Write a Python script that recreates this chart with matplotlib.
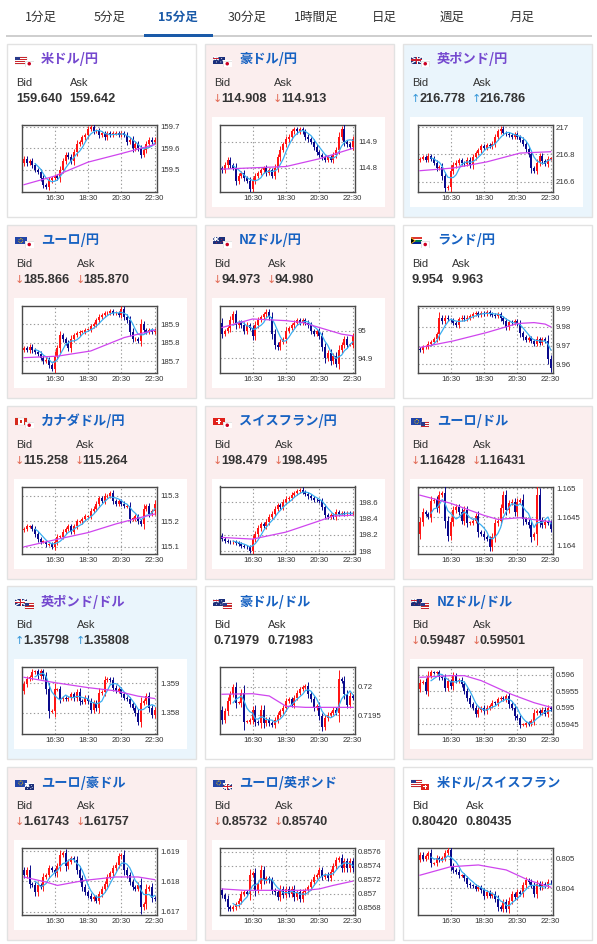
import numpy as np
import pandas as pd
import matplotlib
matplotlib.use("Agg")
import matplotlib.pyplot as plt
from matplotlib.patches import Rectangle, Circle, Polygon

plt.rcParams['font.family'] = ['Liberation Sans', 'Noto Sans CJK JP', 'DejaVu Sans']

W, H = 597, 944

# ---------------- data ----------------
tabs = ["1分足", "5分足", "15分足", "30分足", "1時間足", "日足", "週足", "月足"]
tab_x = [41, 110, 178, 247, 316, 384, 452, 522]
active_tab = 2

time_labels = ["16:30", "18:30", "20:30", "22:30"]
time_idx = [11, 23, 35, 47]

pair_names = ["米ドル/円", "豪ドル/円", "英ポンド/円", "ユーロ/円", "NZドル/円", "ランド/円",
              "カナダドル/円", "スイスフラン/円", "ユーロ/ドル", "英ポンド/ドル", "豪ドル/ドル", "NZドル/ドル",
              "ユーロ/豪ドル", "ユーロ/英ポンド", "米ドル/スイスフラン"]
flag_pairs = [("US", "JP"), ("AU", "JP"), ("GB", "JP"), ("EU", "JP"), ("NZ", "JP"), ("ZA", "JP"),
              ("CA", "JP"), ("CH", "JP"), ("EU", "US"), ("GB", "US"), ("AU", "US"), ("NZ", "US"),
              ("EU", "AU"), ("EU", "GB"), ("US", "CH")]
bids = ["159.640", "114.908", "216.778", "185.866", "94.973", "9.954", "115.258", "198.479",
        "1.16428", "1.35798", "0.71979", "0.59487", "1.61743", "0.85732", "0.80420"]
asks = ["159.642", "114.913", "216.786", "185.870", "94.980", "9.963", "115.264", "198.495",
        "1.16431", "1.35808", "0.71983", "0.59501", "1.61757", "0.85740", "0.80435"]
moves = ["", "down", "up", "down", "down", "", "down", "down", "down", "up", "", "down",
         "down", "down", ""]
visited = [True, False, True, False, False, False, False, False, False, True, False, False,
           False, False, False]

# open of first candle followed by 48 closes (15-minute candles)
usdjpy = [159.53,
          159.55, 159.53, 159.54, 159.52, 159.50, 159.49, 159.46, 159.43, 159.42, 159.45, 159.46, 159.47,
          159.46, 159.50, 159.54, 159.57, 159.56, 159.54, 159.58, 159.62, 159.63, 159.65, 159.66, 159.69,
          159.70, 159.68, 159.68, 159.66, 159.67, 159.65, 159.67, 159.66, 159.67, 159.67, 159.66, 159.67,
          159.66, 159.63, 159.64, 159.60, 159.62, 159.60, 159.57, 159.59, 159.62, 159.64, 159.63, 159.64]
audjpy = [114.80,
          114.79, 114.81, 114.83, 114.81, 114.80, 114.75, 114.77, 114.78, 114.76, 114.75, 114.72, 114.75,
          114.77, 114.78, 114.79, 114.80, 114.78, 114.79, 114.77, 114.80, 114.84, 114.87, 114.89, 114.91,
          114.92, 114.94, 114.95, 114.94, 114.95, 114.94, 114.92, 114.91, 114.90, 114.88, 114.86, 114.85,
          114.84, 114.83, 114.84, 114.83, 114.85, 114.87, 114.92, 114.95, 114.90, 114.89, 114.88, 114.91]
gbpjpy = [216.76,
          216.77, 216.78, 216.76, 216.79, 216.77, 216.74, 216.70, 216.71, 216.64, 216.55, 216.56, 216.68,
          216.72, 216.74, 216.76, 216.74, 216.73, 216.76, 216.72, 216.78, 216.81, 216.83, 216.86, 216.85,
          216.87, 216.86, 216.88, 216.93, 216.97, 216.99, 216.96, 216.95, 216.94, 216.93, 216.95, 216.93,
          216.91, 216.88, 216.84, 216.80, 216.70, 216.68, 216.74, 216.79, 216.75, 216.73, 216.77, 216.77]
eurjpy = [185.76,
          185.77, 185.76, 185.78, 185.76, 185.75, 185.74, 185.72, 185.70, 185.71, 185.68, 185.66, 185.73,
          185.77, 185.84, 185.82, 185.80, 185.77, 185.82, 185.84, 185.85, 185.86, 185.86, 185.87, 185.87,
          185.89, 185.90, 185.92, 185.94, 185.95, 185.96, 185.96, 185.97, 185.96, 185.96, 185.95, 185.98,
          185.94, 185.92, 185.86, 185.82, 185.82, 185.81, 185.90, 185.87, 185.86, 185.87, 185.86, 185.87]
nzdjpy = [95.03,
          94.99, 95.00, 95.01, 95.04, 95.06, 95.02, 95.03, 95.02, 95.00, 95.02, 95.01, 94.98,
          95.02, 95.04, 95.05, 95.06, 95.07, 95.05, 94.99, 94.95, 94.94, 94.96, 94.97, 95.00,
          95.01, 95.02, 95.03, 95.04, 95.03, 95.04, 95.03, 95.02, 95.00, 94.99, 95.00, 94.98,
          94.94, 94.90, 94.92, 94.89, 94.91, 94.88, 94.93, 94.95, 94.97, 94.95, 94.95, 94.98]
zarjpy = [9.968,
          9.9675, 9.969, 9.9695, 9.971, 9.972, 9.9735, 9.976, 9.985, 9.983, 9.985, 9.984, 9.9835,
          9.982, 9.981, 9.984, 9.985, 9.984, 9.985, 9.986, 9.987, 9.9875, 9.9865, 9.9875, 9.9870,
          9.9878, 9.9870, 9.9865, 9.986, 9.9868, 9.9845, 9.983, 9.980, 9.9825, 9.982, 9.983, 9.9815,
          9.9765, 9.9745, 9.973, 9.974, 9.9725, 9.971, 9.9735, 9.9715, 9.9735, 9.9725, 9.963, 9.958]
cadjpy = [115.165,
          115.17, 115.18, 115.18, 115.17, 115.15, 115.13, 115.12, 115.12, 115.11, 115.11, 115.10, 115.12,
          115.14, 115.14, 115.16, 115.17, 115.18, 115.16, 115.18, 115.20, 115.20, 115.21, 115.22, 115.22,
          115.24, 115.25, 115.27, 115.29, 115.28, 115.30, 115.30, 115.31, 115.28, 115.27, 115.28, 115.27,
          115.26, 115.26, 115.21, 115.21, 115.22, 115.20, 115.19, 115.25, 115.26, 115.23, 115.24, 115.27]
chfjpy = [198.19,
          198.15, 198.13, 198.12, 198.11, 198.12, 198.10, 198.09, 198.07, 198.06, 198.05, 198.01, 198.15,
          198.21, 198.28, 198.33, 198.31, 198.36, 198.42, 198.46, 198.52, 198.56, 198.54, 198.60, 198.64,
          198.65, 198.69, 198.71, 198.73, 198.75, 198.72, 198.70, 198.67, 198.65, 198.63, 198.62, 198.61,
          198.54, 198.44, 198.42, 198.44, 198.42, 198.48, 198.46, 198.47, 198.45, 198.47, 198.46, 198.47]
eurusd = [1.16420,
          1.16442, 1.16459, 1.16455, 1.16450, 1.16478, 1.16480, 1.16465, 1.16488, 1.16491, 1.16444, 1.16418, 1.16442,
          1.16462, 1.16468, 1.16459, 1.16444, 1.16462, 1.16440, 1.16440, 1.16444, 1.16452, 1.16424, 1.16421, 1.16415,
          1.16412, 1.16398, 1.16415, 1.16439, 1.16444, 1.16465, 1.16488, 1.16462, 1.16474, 1.16477, 1.16459, 1.16477,
          1.16480, 1.16447, 1.16442, 1.16436, 1.16415, 1.16420, 1.16488, 1.16445, 1.16436, 1.16442, 1.16440, 1.16430]
gbpusd = [1.35875,
          1.35898, 1.35915, 1.35921, 1.35938, 1.35941, 1.35925, 1.35941, 1.35925, 1.35880, 1.35806, 1.35808, 1.35880,
          1.35880, 1.35846, 1.35852, 1.35846, 1.35852, 1.35863, 1.35850, 1.35872, 1.35840, 1.35838, 1.35852, 1.35840,
          1.35811, 1.35834, 1.35817, 1.35869, 1.35872, 1.35911, 1.35915, 1.35911, 1.35886, 1.35875, 1.35880, 1.35863,
          1.35852, 1.35846, 1.35829, 1.35817, 1.35800, 1.35771, 1.35834, 1.35840, 1.35857, 1.35817, 1.35794, 1.35811]
audusd = [0.71960,
          0.71942, 0.71957, 0.71975, 0.71987, 0.71999, 0.71972, 0.71972, 0.71990, 0.71939, 0.71939, 0.71942, 0.71960,
          0.71939, 0.71936, 0.71960, 0.71936, 0.71942, 0.71936, 0.71933, 0.71942, 0.71951, 0.71957, 0.71963, 0.71975,
          0.71978, 0.71969, 0.71981, 0.71990, 0.71996, 0.71999, 0.72002, 0.71987, 0.71978, 0.71963, 0.71966, 0.71948,
          0.71930, 0.71945, 0.71951, 0.71954, 0.71960, 0.71954, 0.72014, 0.72011, 0.71987, 0.71969, 0.71984, 0.71981]
nzdusd = [0.59556,
          0.59576, 0.59578, 0.59551, 0.59597, 0.59607, 0.59606, 0.59607, 0.59592, 0.59590, 0.59561, 0.59580, 0.59566,
          0.59597, 0.59582, 0.59585, 0.59571, 0.59551, 0.59530, 0.59510, 0.59500, 0.59481, 0.59494, 0.59500, 0.59489,
          0.59500, 0.59505, 0.59515, 0.59513, 0.59525, 0.59530, 0.59525, 0.59535, 0.59510, 0.59500, 0.59474, 0.59469,
          0.59448, 0.59448, 0.59453, 0.59450, 0.59458, 0.59484, 0.59489, 0.59484, 0.59494, 0.59482, 0.59500, 0.59495]
euraud = [1.61838,
          1.61821, 1.61838, 1.61793, 1.61787, 1.61764, 1.61787, 1.61781, 1.61815, 1.61821, 1.61844, 1.61838, 1.61827,
          1.61850, 1.61889, 1.61894, 1.61850, 1.61866, 1.61877, 1.61872, 1.61838, 1.61810, 1.61781, 1.61764, 1.61753,
          1.61742, 1.61747, 1.61736, 1.61759, 1.61776, 1.61793, 1.61815, 1.61827, 1.61844, 1.61855, 1.61883, 1.61889,
          1.61838, 1.61821, 1.61798, 1.61781, 1.61776, 1.61790, 1.61714, 1.61725, 1.61776, 1.61781, 1.61745, 1.61743]
eurgbp = [0.85705,
          0.85698, 0.85693, 0.85681, 0.85678, 0.85681, 0.85685, 0.85690, 0.85700, 0.85702, 0.85700, 0.85727, 0.85729,
          0.85705, 0.85714, 0.85734, 0.85719, 0.85722, 0.85719, 0.85705, 0.85702, 0.85695, 0.85707, 0.85698, 0.85707,
          0.85700, 0.85707, 0.85695, 0.85702, 0.85693, 0.85702, 0.85705, 0.85709, 0.85717, 0.85724, 0.85727, 0.85734,
          0.85724, 0.85727, 0.85722, 0.85731, 0.85739, 0.85748, 0.85751, 0.85736, 0.85746, 0.85736, 0.85746, 0.85736]
usdchf = [0.80497,
          0.80514, 0.80500, 0.80508, 0.80520, 0.80485, 0.80485, 0.80502, 0.80497, 0.80502, 0.80520, 0.80531, 0.80476,
          0.80462, 0.80456, 0.80444, 0.80444, 0.80433, 0.80415, 0.80409, 0.80406, 0.80398, 0.80403, 0.80392, 0.80374,
          0.80386, 0.80374, 0.80380, 0.80363, 0.80334, 0.80328, 0.80351, 0.80328, 0.80357, 0.80380, 0.80369, 0.80386,
          0.80380, 0.80409, 0.80427, 0.80421, 0.80409, 0.80380, 0.80415, 0.80403, 0.80415, 0.80409, 0.80421, 0.80420]

price_series = [usdjpy, audjpy, gbpjpy, eurjpy, nzdjpy, zarjpy, cadjpy, chfjpy,
                eurusd, gbpusd, audusd, nzdusd, euraud, eurgbp, usdchf]

# long moving average (magenta) read at a few candle positions
long_ma_idx = [[0, 11, 23, 35, 47], [0, 11, 23, 35, 47], [0, 12, 24, 36, 47], [0, 12, 24, 36, 47],
               [0, 11, 23, 29, 35, 43, 47], [0, 12, 24, 35, 41, 45, 47], [0, 12, 23, 33, 41, 47],
               [0, 11, 23, 34, 40, 47], [0, 11, 23, 28, 36, 42, 47], [0, 11, 23, 33, 41, 47],
               [0, 11, 17, 23, 30, 40, 47], [0, 11, 16, 22, 33, 41, 47], [0, 8, 12, 22, 33, 41, 47],
               [0, 8, 17, 30, 35, 40, 47], [0, 11, 21, 31, 39, 47]]
long_ma_val = [[159.43, 159.47, 159.535, 159.575, 159.617],
               [114.795, 114.80, 114.805, 114.835, 114.875],
               [216.68, 216.70, 216.745, 216.81, 216.82],
               [185.72, 185.728, 185.756, 185.828, 185.868],
               [95.012, 95.043, 95.037, 95.03, 95.012, 94.988, 94.982],
               [9.969, 9.9725, 9.977, 9.9818, 9.9823, 9.9815, 9.980],
               [115.10, 115.13, 115.156, 115.19, 115.213, 115.229],
               [198.17, 198.15, 198.235, 198.36, 198.43, 198.44],
               [1.16488, 1.16474, 1.16453, 1.16446, 1.16449, 1.16445, 1.16442],
               [1.35921, 1.35903, 1.35886, 1.35875, 1.35857, 1.35849],
               [0.71987, 0.71988, 0.71984, 0.71966, 0.71964, 0.71964, 0.71964],
               [0.59592, 0.59597, 0.59597, 0.59582, 0.5954, 0.59515, 0.59501],
               [1.61815, 1.61798, 1.61787, 1.61804, 1.61815, 1.61815, 1.61806],
               [0.85707, 0.85705, 0.85705, 0.85705, 0.85707, 0.85712, 0.85718],
               [0.80444, 0.80473, 0.80479, 0.80462, 0.80427, 0.80403]]

y_limits = [(159.396, 159.708), (114.707, 114.965), (216.523, 217.017), (185.639, 185.999),
            (94.848, 95.091), (9.9555, 9.9913), (115.074, 115.337), (197.975, 198.789),
            (1.16387, 1.16503), (1.35728, 1.35955), (0.719167, 0.720345), (0.594192, 0.596226),
            (1.61689, 1.61911), (0.85670, 0.85765), (0.80308, 0.80537)]
y_ticks = [[159.5, 159.6, 159.7], [114.8, 114.9], [216.6, 216.8, 217.0], [185.7, 185.8, 185.9],
           [94.9, 95.0], [9.96, 9.97, 9.98, 9.99], [115.1, 115.2, 115.3], [198.0, 198.2, 198.4, 198.6],
           [1.164, 1.1645, 1.165], [1.358, 1.359], [0.7195, 0.72], [0.5945, 0.595, 0.5955, 0.596],
           [1.617, 1.618, 1.619], [0.8568, 0.857, 0.8572, 0.8574, 0.8576], [0.804, 0.805]]

# ---------------- style ----------------
UP = '#ff1414'
DOWN = '#0a0a8c'
CYAN = '#3aaef0'
MAG = '#cf45ee'
TXT = '#333333'
PINK = '#fbeeee'
LBLUE = '#eaf5fc'
BLUE_T = '#1762c2'
PURP_T = '#7549cf'
CJK = ['Noto Sans CJK JP', 'DejaVu Sans']

fig = plt.figure(figsize=(W / 100, H / 100), dpi=100)
fig.patch.set_facecolor('white')
renderer = fig.canvas.get_renderer()


def fx(x):
    return x / W


def fy(y):
    return 1 - y / H


def ftext(x, y, s, **kw):
    return fig.text(fx(x), fy(y), s, **kw)


def frect(x, y, w, h, **kw):
    r = Rectangle((fx(x), fy(y + h)), w / W, h / H, transform=fig.transFigure, zorder=-5, **kw)
    fig.patches.append(r)
    return r


# ---------------- tabs ----------------
for i, (t, x) in enumerate(zip(tabs, tab_x)):
    if i == active_tab:
        ftext(x, 17, t, ha='center', va='center', fontsize=9, color='#1a5aa8',
              weight='bold', family=CJK)
    else:
        ftext(x, 17, t, ha='center', va='center', fontsize=9, color=TXT, family=CJK)
frect(6, 35.3, 586, 1.4, facecolor='#cfcfcf', edgecolor='none')
frect(144, 33.5, 69, 3.2, facecolor='#1a5aa8', edgecolor='none')


# ---------------- flags ----------------
def box(ax, x, y, w, h, fc, ec='none', lw=0.0, z=1):
    ax.add_patch(Rectangle((x, y), w, h, facecolor=fc, edgecolor=ec, lw=lw, zorder=z))


def mini_union(ax, x, y, w, h, z):
    box(ax, x, y, w, h, '#1b2f7a', z=z)
    ax.plot([x, x + w], [y, y + h], color='white', lw=0.9, zorder=z + 0.1, solid_capstyle='butt')
    ax.plot([x, x + w], [y + h, y], color='white', lw=0.9, zorder=z + 0.1, solid_capstyle='butt')
    box(ax, x, y + h * 0.36, w, h * 0.28, 'white', z=z + 0.2)
    box(ax, x + w * 0.40, y, w * 0.2, h, 'white', z=z + 0.2)
    box(ax, x, y + h * 0.42, w, h * 0.16, '#cc1f2f', z=z + 0.3)
    box(ax, x + w * 0.44, y, w * 0.12, h, '#cc1f2f', z=z + 0.3)


def draw_flag(ax, code, x, y, w, h, z):
    if code == 'JP':
        box(ax, x, y, w, h, 'white', '#d0d0d0', 0.4, z)
        ax.add_patch(Circle((x + w / 2, y + h / 2), h * 0.27, facecolor='#cc0022',
                            edgecolor='none', zorder=z + 0.1))
    elif code == 'US':
        box(ax, x, y, w, h, 'white', '#d0d0d0', 0.3, z)
        for k in range(4):
            box(ax, x, y + k * h / 3.5, w, h / 7, '#c8282d', z=z + 0.1)
        box(ax, x, y, w * 0.45, h * 0.55, '#2a3a8a', z=z + 0.2)
    elif code == 'GB':
        mini_union(ax, x, y, w, h, z)
    elif code in ('AU', 'NZ'):
        box(ax, x, y, w, h, '#1b2f7a', z=z)
        mini_union(ax, x, y, w * 0.5, h * 0.5, z + 0.1)
        sc = 'white' if code == 'AU' else '#dd2233'
        for (a, b) in [(0.75, 0.3), (0.85, 0.6), (0.68, 0.78), (0.3, 0.78)]:
            ax.add_patch(Circle((x + w * a, y + h * b), h * 0.07, facecolor=sc,
                                edgecolor='none', zorder=z + 0.5))
    elif code == 'EU':
        box(ax, x, y, w, h, '#2245a8', z=z)
        ax.add_patch(Circle((x + w / 2, y + h / 2), h * 0.28, fill=False, edgecolor='#ffd000',
                            lw=0.6, ls=(0, (1, 1)), zorder=z + 0.1))
    elif code == 'ZA':
        box(ax, x, y, w, h / 2, '#de3831', z=z)
        box(ax, x, y + h / 2, w, h / 2, '#002395', z=z)
        box(ax, x, y + h * 0.3, w, h * 0.4, 'white', z=z + 0.1)
        box(ax, x, y + h * 0.38, w, h * 0.24, '#007a4d', z=z + 0.2)
        ax.add_patch(Polygon([(x, y), (x + w * 0.42, y + h / 2), (x, y + h)], closed=True,
                             facecolor='#ffb612', edgecolor='none', zorder=z + 0.3))
        ax.add_patch(Polygon([(x, y + h * 0.15), (x + w * 0.3, y + h / 2), (x, y + h * 0.85)],
                             closed=True, facecolor='black', edgecolor='none', zorder=z + 0.4))
    elif code == 'CA':
        box(ax, x, y, w, h, 'white', '#d0d0d0', 0.3, z)
        box(ax, x, y, w * 0.25, h, '#d52b1e', z=z + 0.1)
        box(ax, x + w * 0.75, y, w * 0.25, h, '#d52b1e', z=z + 0.1)
        box(ax, x + w * 0.42, y + h * 0.32, w * 0.16, h * 0.36, '#d52b1e', z=z + 0.1)
    elif code == 'CH':
        box(ax, x, y, w, h, '#e0201a', z=z)
        box(ax, x + w * 0.42, y + h * 0.2, w * 0.16, h * 0.6, 'white', z=z + 0.1)
        box(ax, x + w * 0.28, y + h * 0.4, w * 0.44, h * 0.2, 'white', z=z + 0.1)


# ---------------- candle chart ----------------
def draw_chart(ax, prices, ma_idx, ma_val, ylim, yticks):
    p = np.asarray(prices, dtype=float)
    o, c = p[:-1], p[1:]
    n = len(c)
    x = np.arange(n) + (48 - n)
    span = ylim[1] - ylim[0]
    col = np.where(c >= o, UP, DOWN)
    body = c - o
    minh = span * 0.012
    small = np.abs(body) < minh
    bottom = np.where(small, o - minh / 2, o)
    height = np.where(small, minh, body)
    top = np.maximum(o, c)
    bot = np.minimum(o, c)
    wick = span * 0.025 + np.abs(body) * 0.22
    ax.vlines(x, bot - wick, top + wick, colors=col, lw=0.7, zorder=3)
    ax.bar(x, height, bottom=bottom, width=0.72, color=col, linewidth=0, zorder=4)
    ma5 = pd.Series(c).rolling(5).mean().to_numpy()
    ax.plot(x, ma5, color=CYAN, lw=0.9, zorder=5)
    ax.plot(ma_idx, ma_val, color=MAG, lw=0.9, zorder=5)
    ax.set_xlim(-0.7, 47.8)
    ax.set_ylim(*ylim)
    ax.set_xticks(time_idx)
    ax.set_xticklabels(time_labels)
    ax.set_yticks(yticks)
    ax.set_yticklabels([f"{t:g}" for t in yticks])
    ax.yaxis.tick_right()
    ax.tick_params(length=0, labelsize=5.6, labelcolor=TXT, pad=2.2)
    ax.grid(True, ls=(0, (1.2, 2.2)), color='#9a9a9a', lw=0.8)
    ax.set_axisbelow(True)
    for s in ax.spines.values():
        s.set_color('#4a4a4a')
        s.set_linewidth(1.0)
    ax.set_facecolor('white')


# ---------------- panels ----------------
for k in range(15):
    r, ci = divmod(k, 3)
    px0 = 7 + ci * 198
    py0 = 44 + r * 180.75
    pw, ph = 189, 173
    mv = moves[k]
    bg = PINK if mv == 'down' else (LBLUE if mv == 'up' else 'white')
    frect(px0, py0, pw, ph, facecolor=bg, edgecolor='#e2e2e2', lw=1.0)
    frect(px0 + 6.5, py0 + 73, 173.5, 90, facecolor='white', edgecolor='none')

    # flags
    fax = fig.add_axes([fx(px0 + 8), fy(py0 + 23), 19 / W, 12 / H])
    fax.set_xlim(0, 19)
    fax.set_ylim(12, 0)
    fax.axis('off')
    a, b = flag_pairs[k]
    draw_flag(fax, a, 0, 1.5, 11.5, 7, 1)
    box(fax, 9.5, 5, 9.5, 7.5, 'white', z=3)
    draw_flag(fax, b, 10, 5.5, 8.5, 6.5, 4)

    # title
    ftext(px0 + 34, py0 + 15.5, pair_names[k], ha='left', va='center', fontsize=9.5,
          weight='bold', color=PURP_T if visited[k] else BLUE_T, family=CJK)

    # bid / ask
    bx = px0 + 9
    ftext(bx, py0 + 39, 'Bid', ha='left', va='center', fontsize=8, color=TXT)
    arrow = {'down': '↓', 'up': '↑'}.get(mv, '')
    acol = '#e26a55' if mv == 'down' else '#3596d8'
    vy = py0 + 55
    if arrow:
        ftext(bx - 1, vy, arrow, ha='left', va='center', fontsize=8, color=acol,
              family=['DejaVu Sans'])
        vx = bx + 7
    else:
        vx = bx
    t = ftext(vx, vy, bids[k], ha='left', va='center', fontsize=9.2, weight='bold', color=TXT)
    bb = t.get_window_extent(renderer)
    ax_x = bb.x1 + 7.5
    ftext(ax_x, py0 + 39, 'Ask', ha='left', va='center', fontsize=8, color=TXT)
    if arrow:
        ftext(ax_x - 1, vy, arrow, ha='left', va='center', fontsize=8, color=acol,
              family=['DejaVu Sans'])
        avx = ax_x + 7
    else:
        avx = ax_x
    ftext(avx, vy, asks[k], ha='left', va='center', fontsize=9.2, weight='bold', color=TXT)

    # chart
    cax = fig.add_axes([fx(px0 + 15), fy(py0 + 148), 135 / W, 67 / H])
    draw_chart(cax, price_series[k], long_ma_idx[k], long_ma_val[k], y_limits[k], y_ticks[k])

fig.savefig('out.png', dpi=100, facecolor='white')
